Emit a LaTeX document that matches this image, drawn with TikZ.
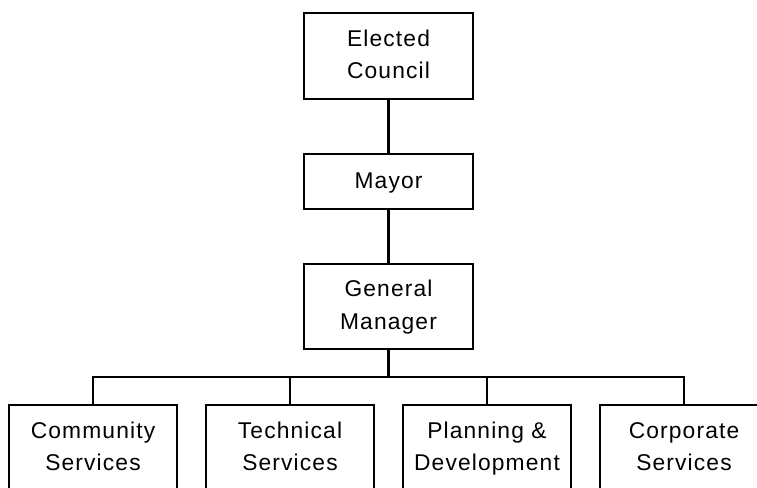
\documentclass[tikz,border=0pt]{standalone}
\usepackage{fontspec}
\setmainfont[LetterSpace=5]{Liberation Sans}
\begin{document}
\begin{tikzpicture}[x=1pt,y=-1pt,
  box/.style={draw, line width=2.2pt, minimum width=169pt, align=center, inner sep=0pt,
    font=\fontsize{22.8}{32.5}\selectfont},
  conn/.style={line width=2.2pt}]
\useasboundingbox (0,0) rectangle (757,487);
\clip (0,0) rectangle (757,487);
\node[box, minimum height=86pt] (council) at (388.5,56) {Elected\strut\\Council\strut};
\node[box, minimum height=55pt] (mayor) at (388.5,181.5) {Mayor\strut};
\node[box, minimum height=85pt] (gm) at (388.5,306.5) {General\strut\\Manager\strut};
\node[box, minimum width=168pt, minimum height=86pt] (c1) at (93,448) {Community\strut\\Services\strut};
\node[box, minimum width=168pt, minimum height=86pt] (c2) at (290,448) {Technical\strut\\Services\strut};
\node[box, minimum width=168pt, minimum height=86pt] (c3) at (487,448) {Planning \&\strut\\Development\strut};
\node[box, minimum width=168pt, minimum height=86pt] (c4) at (684,448) {Corporate\strut\\Services\strut};
\coordinate (bus) at (388.5,377);
\draw[conn] (council) -- (mayor);
\draw[conn] (mayor) -- (gm);
\draw[conn] (gm.south) -- (bus);
\draw[conn] (c1.north) |- (bus) -| (c4.north);
\draw[conn] (c2.north) -- (c2.north |- bus);
\draw[conn] (c3.north) -- (c3.north |- bus);
\end{tikzpicture}
\end{document}
